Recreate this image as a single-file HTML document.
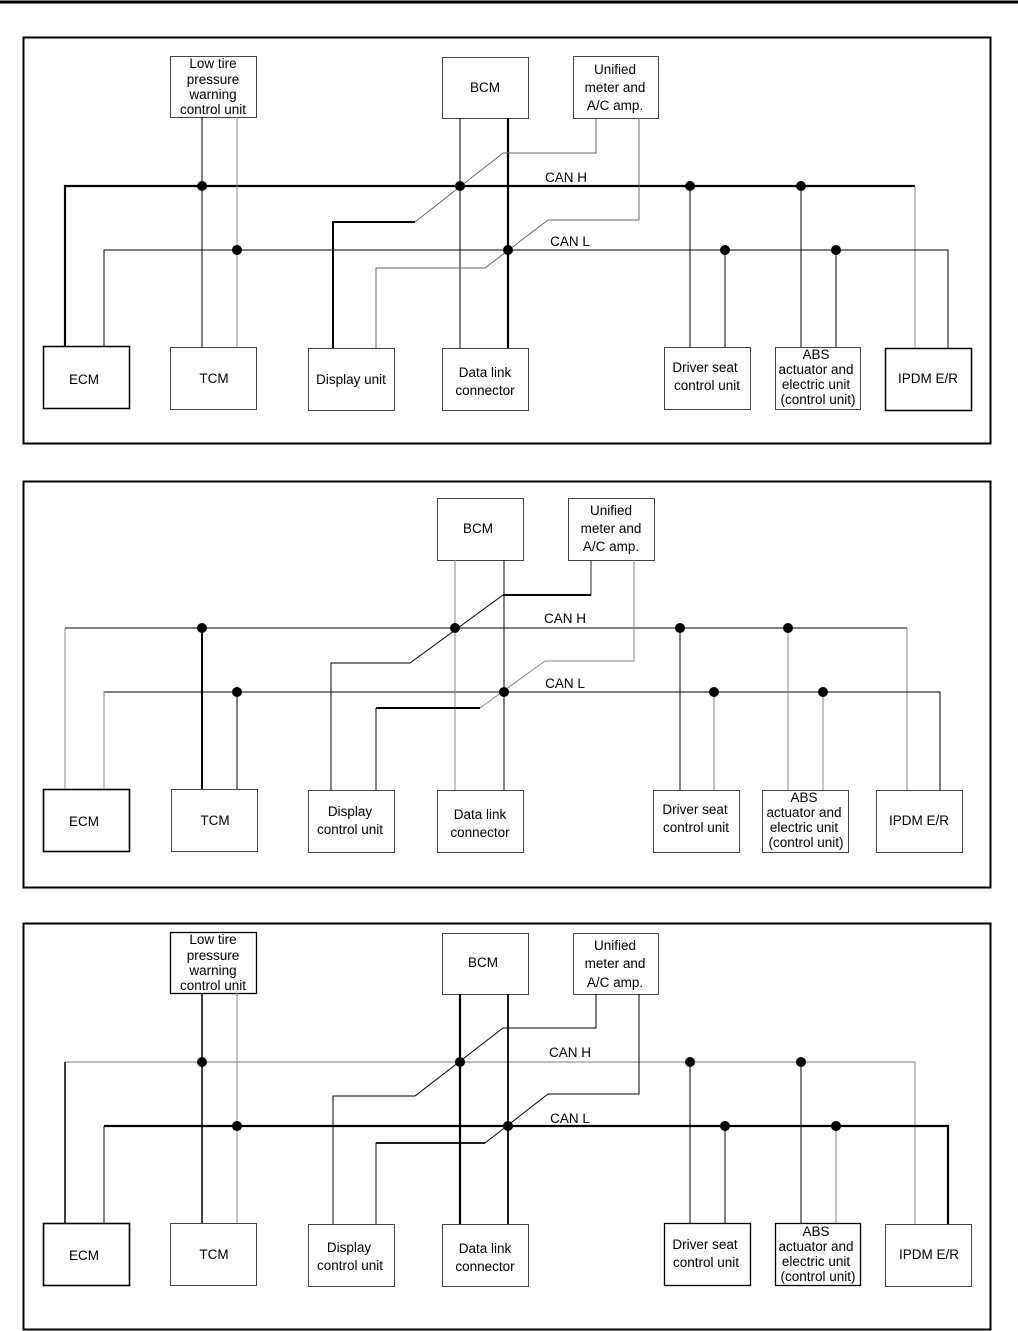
<!DOCTYPE html>
<html><head><style>
html,body{margin:0;padding:0;background:#fff;}
svg{display:block;}
text{font-family:"Liberation Sans",sans-serif;font-size:13.5px;fill:#000;text-anchor:middle;}
</style></head><body>
<svg width="1018" height="1331" viewBox="0 0 1018 1331" xmlns="http://www.w3.org/2000/svg">
<line x1="0" y1="2" x2="1018" y2="2" stroke="#000" stroke-width="3"/>
<g fill="none" stroke="#000">
<!-- Panel 1 -->
<rect x="23.5" y="37.5" width="967" height="406" stroke-width="2"/>
<rect x="170.5" y="56.5" width="86" height="61" stroke="#444"/>
<rect x="442.5" y="57.5" width="86" height="61" stroke="#444"/>
<rect x="573.5" y="56.5" width="85" height="62" stroke="#444"/>
<rect x="43.5" y="346.5" width="86" height="62" stroke-width="1.5"/>
<rect x="170.5" y="347.5" width="86" height="62" stroke="#444"/>
<rect x="308.5" y="348.5" width="86" height="62" stroke="#444"/>
<rect x="442.5" y="348.5" width="86" height="62" stroke="#444"/>
<rect x="664.5" y="347.5" width="86" height="62" stroke="#444"/>
<rect x="775.5" y="347.5" width="85" height="62" stroke="#444"/>
<rect x="885.5" y="348.5" width="86" height="62" stroke-width="1.5"/>
<polyline points="65,346 65,186 915,186" stroke-width="2.2"/>
<line x1="915" y1="186" x2="915" y2="348" stroke="#888"/>
<polyline points="104,346 104,250 948,250 948,348"/>
<line x1="202" y1="117" x2="202" y2="347"/>
<line x1="237" y1="117" x2="237" y2="347" stroke="#888"/>
<line x1="460" y1="118" x2="460" y2="348"/>
<line x1="508" y1="118" x2="508" y2="348" stroke-width="2.2"/>
<polyline points="596,118 596,153 503,153 415,222" stroke="#666"/>
<polyline points="415,222 333,222 333,348" stroke-width="2"/>
<polyline points="639,118 639,220 548,220 485,268 376,268 376,348" stroke="#666"/>
<line x1="690" y1="186" x2="690" y2="347"/>
<line x1="725" y1="250" x2="725" y2="347"/>
<line x1="801" y1="186" x2="801" y2="347"/>
<line x1="836" y1="250" x2="836" y2="347"/>

<!-- Panel 2 -->
<rect x="23.5" y="481.5" width="967" height="406" stroke-width="2"/>
<rect x="437.5" y="498.5" width="86" height="62" stroke="#444"/>
<rect x="568.5" y="498.5" width="86" height="62" stroke="#444"/>
<rect x="43.5" y="789.5" width="86" height="62" stroke-width="1.6"/>
<rect x="171.5" y="789.5" width="86" height="62" stroke="#444"/>
<rect x="308.5" y="790.5" width="86" height="62" stroke="#444"/>
<rect x="437.5" y="790.5" width="86" height="62" stroke="#444"/>
<rect x="653.5" y="790.5" width="86" height="62" stroke="#444"/>
<rect x="762.5" y="790.5" width="86" height="62" stroke="#444"/>
<rect x="876.5" y="790.5" width="86" height="62" stroke="#444"/>
<line x1="65" y1="628" x2="907" y2="628"/>
<line x1="65" y1="628" x2="65" y2="789" stroke="#888"/>
<line x1="907" y1="628" x2="907" y2="790" stroke="#888"/>
<polyline points="104,789 104,692 940,692 940,790"/>
<line x1="104" y1="692" x2="104" y2="789" stroke="#888"/>
<line x1="202" y1="628" x2="202" y2="789" stroke-width="2"/>
<line x1="237" y1="692" x2="237" y2="789"/>
<line x1="455" y1="560" x2="455" y2="790" stroke="#888"/>
<line x1="504" y1="560" x2="504" y2="790"/>
<polyline points="591,560 591,595 503,595" stroke="#222"/>
<line x1="503" y1="595" x2="591" y2="595" stroke-width="2"/>
<polyline points="503,595 410,663 331,663 331,790"/>
<polyline points="634,560 634,661 545,661 480,708" stroke="#888"/>
<line x1="480" y1="708" x2="376" y2="708" stroke-width="2"/>
<line x1="376" y1="708" x2="376" y2="790"/>
<line x1="680" y1="628" x2="680" y2="790"/>
<line x1="714" y1="692" x2="714" y2="790" stroke="#888"/>
<line x1="788" y1="628" x2="788" y2="790" stroke="#888"/>
<line x1="823" y1="692" x2="823" y2="790" stroke="#888"/>

<!-- Panel 3 -->
<rect x="23.5" y="923.5" width="967" height="406" stroke-width="2"/>
<rect x="170.5" y="932.5" width="86" height="61" stroke-width="1.3"/>
<rect x="442.5" y="933.5" width="86" height="61" stroke="#444"/>
<rect x="573.5" y="933.5" width="85" height="61" stroke="#444"/>
<rect x="43.5" y="1223.5" width="86" height="62" stroke-width="1.6"/>
<rect x="170.5" y="1223.5" width="86" height="62" stroke="#444"/>
<rect x="308.5" y="1224.5" width="86" height="62" stroke="#444"/>
<rect x="442.5" y="1224.5" width="86" height="62" stroke="#444"/>
<rect x="664.5" y="1223.5" width="86" height="62" stroke-width="1.3"/>
<rect x="775.5" y="1223.5" width="85" height="62" stroke-width="1.3"/>
<rect x="885.5" y="1224.5" width="86" height="62" stroke="#444"/>
<line x1="65" y1="1062" x2="915" y2="1062" stroke="#777"/>
<line x1="65" y1="1062" x2="65" y2="1223" stroke-width="1.5"/>
<line x1="915" y1="1062" x2="915" y2="1224" stroke="#888"/>
<polyline points="104,1126 948,1126 948,1224" stroke-width="2.2"/>
<line x1="104" y1="1126" x2="104" y2="1223"/>
<line x1="202" y1="993" x2="202" y2="1223" stroke-width="1.5"/>
<line x1="237" y1="993" x2="237" y2="1223" stroke="#888"/>
<line x1="460" y1="994" x2="460" y2="1224" stroke-width="2.2"/>
<line x1="508" y1="994" x2="508" y2="1224" stroke-width="1.8"/>
<polyline points="596,994 596,1028 503,1028 415,1096 333,1096 333,1224"/>
<polyline points="639,994 639,1094 548,1094 485,1143 376,1143 376,1224"/>
<line x1="376" y1="1143" x2="485" y2="1143" stroke-width="1.8"/>
<line x1="690" y1="1062" x2="690" y2="1223"/>
<line x1="725" y1="1126" x2="725" y2="1223"/>
<line x1="801" y1="1062" x2="801" y2="1223"/>
<line x1="836" y1="1126" x2="836" y2="1223" stroke="#888"/>
</g>
<g fill="#000">
<circle cx="202" cy="186" r="5"/><circle cx="460" cy="186" r="5"/><circle cx="690" cy="186" r="5"/><circle cx="801" cy="186" r="5"/>
<circle cx="237" cy="250" r="5"/><circle cx="508" cy="250" r="5"/><circle cx="725" cy="250" r="5"/><circle cx="836" cy="250" r="5"/>
<circle cx="202" cy="628" r="5"/><circle cx="455" cy="628" r="5"/><circle cx="680" cy="628" r="5"/><circle cx="788" cy="628" r="5"/>
<circle cx="237" cy="692" r="5"/><circle cx="504" cy="692" r="5"/><circle cx="714" cy="692" r="5"/><circle cx="823" cy="692" r="5"/>
<circle cx="202" cy="1062" r="5"/><circle cx="460" cy="1062" r="5"/><circle cx="690" cy="1062" r="5"/><circle cx="801" cy="1062" r="5"/>
<circle cx="237" cy="1126" r="5"/><circle cx="508" cy="1126" r="5"/><circle cx="725" cy="1126" r="5"/><circle cx="836" cy="1126" r="5"/>
</g>
<!-- Panel 1 text -->
<text x="213" y="68">Low tire</text><text x="213" y="84">pressure</text><text x="213" y="99">warning</text><text x="213" y="114">control unit</text>
<text x="485" y="92">BCM</text>
<text x="615" y="74">Unified</text><text x="615" y="92">meter and</text><text x="615" y="110">A/C amp.</text>
<text x="566" y="182">CAN H</text><text x="570" y="246">CAN L</text>
<text x="84" y="384">ECM</text><text x="214" y="383">TCM</text><text x="351" y="384">Display unit</text>
<text x="485" y="377">Data link</text><text x="485" y="395">connector</text>
<text x="705" y="372">Driver seat</text><text x="707" y="390">control unit</text>
<text x="816" y="359">ABS</text><text x="816" y="374">actuator and</text><text x="816" y="389">electric unit</text><text x="818" y="404">(control unit)</text>
<text x="928" y="383">IPDM E/R</text>
<!-- Panel 2 text -->
<text x="478" y="533">BCM</text>
<text x="611" y="515">Unified</text><text x="611" y="533">meter and</text><text x="611" y="551">A/C amp.</text>
<text x="565" y="623">CAN H</text><text x="565" y="688">CAN L</text>
<text x="84" y="826">ECM</text><text x="215" y="825">TCM</text>
<text x="350" y="816">Display</text><text x="350" y="834">control unit</text>
<text x="480" y="819">Data link</text><text x="480" y="837">connector</text>
<text x="695" y="814">Driver seat</text><text x="696" y="832">control unit</text>
<text x="804" y="802">ABS</text><text x="804" y="817">actuator and</text><text x="804" y="832">electric unit</text><text x="806" y="847">(control unit)</text>
<text x="919" y="825">IPDM E/R</text>
<!-- Panel 3 text -->
<text x="213" y="944">Low tire</text><text x="213" y="960">pressure</text><text x="213" y="975">warning</text><text x="213" y="990">control unit</text>
<text x="483" y="967">BCM</text>
<text x="615" y="950">Unified</text><text x="615" y="968">meter and</text><text x="615" y="987">A/C amp.</text>
<text x="570" y="1057">CAN H</text><text x="570" y="1123">CAN L</text>
<text x="84" y="1260">ECM</text><text x="214" y="1259">TCM</text>
<text x="349" y="1252">Display</text><text x="350" y="1270">control unit</text>
<text x="485" y="1253">Data link</text><text x="485" y="1271">connector</text>
<text x="705" y="1249">Driver seat</text><text x="706" y="1267">control unit</text>
<text x="816" y="1236">ABS</text><text x="816" y="1251">actuator and</text><text x="816" y="1266">electric unit</text><text x="818" y="1281">(control unit)</text>
<text x="929" y="1259">IPDM E/R</text>
</svg>
</body></html>
